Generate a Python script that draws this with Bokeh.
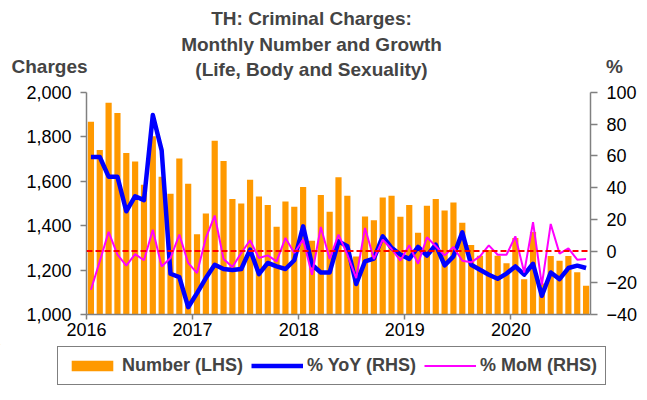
from bokeh.plotting import figure
from bokeh.layouts import column
from bokeh.models import (Range1d, LinearAxis, FixedTicker, NumeralTickFormatter,
                          Span, Label, Legend, LegendItem, ColumnDataSource)
from bokeh.embed import file_html
from bokeh.resources import INLINE

# ---------------- data ----------------
months = [f"{y}-{m:02d}" for y in range(2016, 2021) for m in range(1, 13)][:57]

number = [1868, 1741, 1954, 1908, 1728, 1689, 1585, 1803, 1621, 1544, 1703, 1589,
          1362, 1455, 1783, 1692, 1520, 1500, 1607, 1532, 1493, 1395, 1509, 1485,
          1574, 1332, 1538, 1463, 1618, 1535, 1261, 1442, 1425, 1527, 1535, 1440,
          1493, 1368, 1490, 1520, 1469, 1505, 1413, 1313, 1265, 1290, 1265, 1231,
          1345, 1159, 1372, 1140, 1263, 1242, 1264, 1190, 1129]

yoy = [59.3, 59.3, 46.9, 46.9, 25.1, 34.6, 32.1, 85.8, 63.5, -14.3, -16.4, -35.4,
       -26.5, -17.0, -8.6, -11.3, -12.0, -11.3, 0.9, -14.5, -7.5, -9.7, -11.3, -5.8,
       15.6, -8.6, -13.5, -13.5, 6.1, 3.0, -20.8, -6.5, -4.8, 9.3, 2.0, -2.2,
       -5.0, 2.6, -2.9, 4.0, -9.0, -3.3, 11.8, -8.6, -11.8, -14.9, -17.5, -14.2,
       -9.7, -14.9, -8.0, -28.2, -13.5, -17.7, -10.7, -9.2, -10.7]

mom = [-24.4, -6.5, 12.1, -2.3, -9.2, -1.9, -5.8, 13.5, -9.7, -4.4, 10.4, -7.5,
       -13.9, 8.3, 22.4, -5.0, -10.0, -1.2, 6.8, -4.4, -2.7, -6.5, 8.3, -1.2,
       7.2, -14.9, 15.2, -5.0, 10.4, -2.3, -17.0, 14.6, -5.0, 7.2, 1.3, -6.0,
       3.6, -8.0, 8.7, 3.0, -2.7, 2.6, -6.1, -7.1, -3.3, 3.6, -2.3, -2.3,
       9.3, -13.5, 18.2, -21.3, 17.1, -1.6, 1.7, -5.4, -5.0]

year_labels = ["2016", "2017", "2018", "2019", "2020"]
left_ticks = [1000, 1200, 1400, 1600, 1800, 2000]
right_ticks = [-40, -20, 0, 20, 40, 60, 80, 100]
title_lines = ["TH: Criminal Charges:", "Monthly Number and Growth",
               "(Life, Body and Sexuality)"]
series_names = ["Number (LHS)", "% YoY (RHS)", "% MoM (RHS)"]

# ---------------- styles ----------------
FONT = "Liberation Sans"
AX = "#808080"
C_BAR, C_YOY, C_MOM, C_ZERO = "#FF9900", "#0000FF", "#FF00FF", "#FF0000"
W = 640


def blank_fig(h):
    f = figure(width=W, height=h, output_backend="svg", toolbar_location=None,
               x_axis_type=None, y_axis_type=None,
               x_range=Range1d(0, W), y_range=Range1d(h, 0),
               min_border_left=0, min_border_right=0, min_border_top=0, min_border_bottom=0)
    f.frame_align = False
    f.xgrid.visible = False
    f.ygrid.visible = False
    f.outline_line_color = None
    f.background_fill_color = "white"
    f.border_fill_color = "white"
    return f


# ---------------- header (title + axis captions) ----------------
H1 = 80
top = blank_fig(H1)
for txt, yy in zip(title_lines, [18, 44, 69]):
    top.add_layout(Label(x=311, y=yy, text=txt, text_font=FONT, text_font_size="19px",
                         text_font_style="bold", text_align="center", text_baseline="middle"))
top.add_layout(Label(x=11, y=66, text="Charges", text_font=FONT, text_font_size="19px",
                     text_font_style="bold", text_align="left", text_baseline="middle"))
top.add_layout(Label(x=614, y=66, text="%", text_font=FONT, text_font_size="19px",
                     text_font_style="bold", text_align="center", text_baseline="middle"))

# ---------------- main chart ----------------
xpos = [i + 0.5 for i in range(len(months))]
src = ColumnDataSource(dict(month=months, x=xpos, number=number, yoy=yoy, mom=mom))

p = figure(width=W, height=264, output_backend="svg", toolbar_location=None,
           x_range=Range1d(0, len(months)), y_range=Range1d(left_ticks[0], left_ticks[-1]),
           min_border_left=86, min_border_right=48, min_border_top=12, min_border_bottom=30)
p.frame_align = False
p.extra_y_ranges = {"pct": Range1d(right_ticks[0], right_ticks[-1])}
p.xgrid.visible = False
p.ygrid.visible = False
p.outline_line_color = None
p.background_fill_color = "white"
p.border_fill_color = "white"


def style_axis(ax, tick_out, standoff):
    ax.axis_line_color = AX
    ax.axis_line_width = 1.5
    ax.major_tick_line_color = AX
    ax.major_tick_line_width = 1.5
    ax.major_tick_out = tick_out
    ax.major_tick_in = 0
    ax.minor_tick_line_color = None
    ax.major_label_text_font = FONT
    ax.major_label_text_font_size = "18px"
    ax.major_label_text_color = "black"
    ax.major_label_standoff = standoff


xa = p.xaxis[0]
xa.ticker = FixedTicker(ticks=[12 * i for i in range(len(year_labels))])
xa.major_label_overrides = {12 * i: lab for i, lab in enumerate(year_labels)}
style_axis(xa, 5, 3)

ya = p.yaxis[0]
ya.ticker = FixedTicker(ticks=left_ticks)
ya.formatter = NumeralTickFormatter(format="0,0")
style_axis(ya, 6, 9)

ra = LinearAxis(y_range_name="pct", ticker=FixedTicker(ticks=right_ticks))
style_axis(ra, 7, 9)
p.add_layout(ra, "right")

p.vbar(x="x", top="number", bottom=left_ticks[0], width=0.7, source=src,
       fill_color=C_BAR, line_color=None)
p.add_layout(Span(location=0, dimension="width", y_range_name="pct",
                  line_color=C_ZERO, line_width=2, line_dash="6 3"))
p.line(x="x", y="yoy", source=src, y_range_name="pct",
       line_color=C_YOY, line_width=4.5, line_join="round")
p.line(x="x", y="mom", source=src, y_range_name="pct",
       line_color=C_MOM, line_width=2)

# ---------------- legend strip ----------------
# legend-only renderers: one point each, placed outside the visible range
H3 = 48
bot = blank_fig(H3)
off = [-100, -90]
r_bar = bot.vbar(x=off[:1], top=off[:1], bottom=off[1:], width=1,
                 fill_color=C_BAR, line_color=None)
r_yoy = bot.line(x=off, y=off, line_color=C_YOY, line_width=4.5)
r_mom = bot.line(x=off, y=off, line_color=C_MOM, line_width=2)
legend = Legend(items=[LegendItem(label=series_names[0], renderers=[r_bar]),
                       LegendItem(label=series_names[1], renderers=[r_yoy]),
                       LegendItem(label=series_names[2], renderers=[r_mom])],
                location=(57, 7), orientation="horizontal",
                label_text_font=FONT, label_text_font_size="18px",
                label_text_font_style="bold", glyph_width=52, glyph_height=13,
                label_standoff=4, spacing=8, padding=8, margin=0,
                border_line_color="black", border_line_width=1,
                background_fill_color="white", background_fill_alpha=1)
bot.add_layout(legend, "center")

layout = column(top, p, bot, spacing=0)
open("out.html", "w").write(file_html(layout, INLINE))
